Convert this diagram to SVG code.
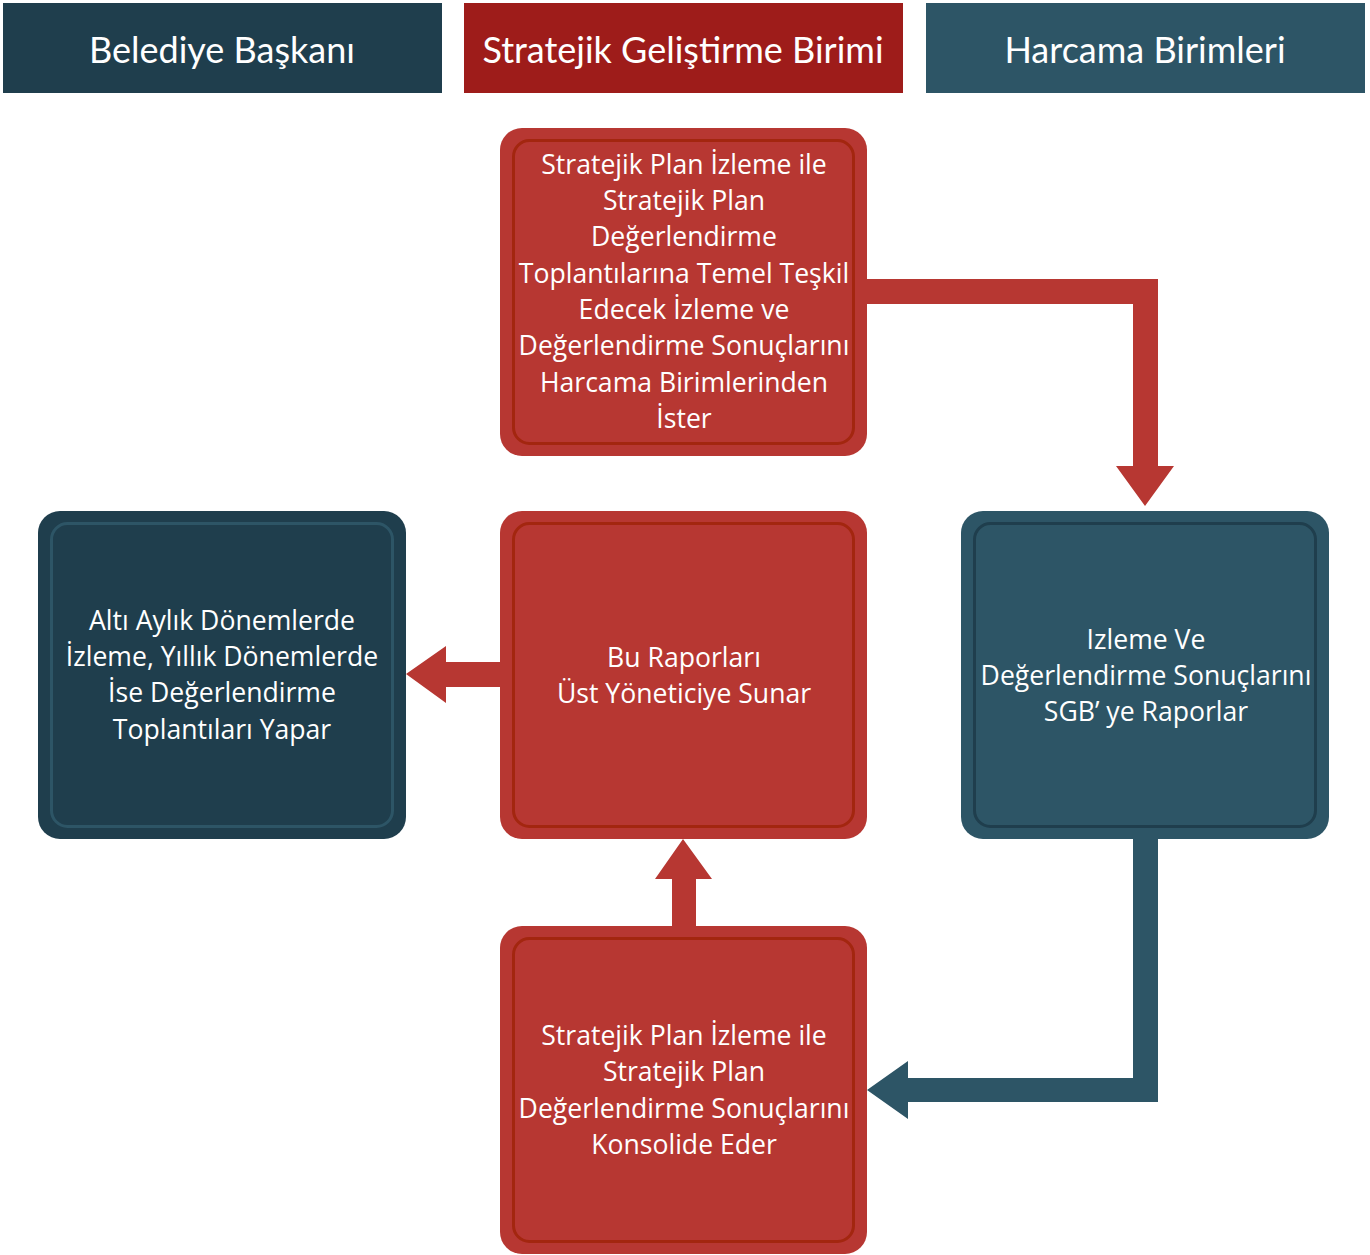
<svg xmlns="http://www.w3.org/2000/svg" width="1370" height="1255" viewBox="0 0 1370 1255">
<style>
.hdr{font-family:"Lato","Noto Sans",sans-serif;font-size:36px;fill:#ffffff;text-anchor:middle}
.txt{font-family:"Open Sans","Noto Sans",sans-serif;font-size:26.6px;fill:#ffffff;text-anchor:middle}
.red{fill:#b73732}
.redIn{fill:none;stroke:#a3260f;stroke-width:3}
.dark{fill:#1f3e4d}
.darkIn{fill:none;stroke:#2d5566;stroke-width:3}
.teal{fill:#2d5566}
.tealIn{fill:none;stroke:#1f3e4d;stroke-width:3}
</style>
<rect width="1370" height="1255" fill="#ffffff"/>
<g id="header-baskan"><rect x="3" y="3" width="439" height="90" fill="#1f3e4d"/><text class="hdr" x="222" y="63">Belediye Başkanı</text></g>
<g id="header-sgb"><rect x="464" y="3" width="439" height="90" fill="#9e1c1a"/><text class="hdr" x="683" y="63">Stratejik Geliştirme Birimi</text></g>
<g id="header-harcama"><rect x="926" y="3" width="439" height="90" fill="#2d5566"/><text class="hdr" x="1145" y="63">Harcama Birimleri</text></g>
<g id="connectors">
<path d="M867 279 H1158 V466 H1174 L1145 506 L1116 466 H1133 V304 H867 Z" fill="#b73732"/>
<path d="M500 662 H446 V646 L406 674 L446 703 V687 H500 Z" fill="#b73732"/>
<path d="M672 926 V879 H655 L683 839 L712 879 H696 V926 Z" fill="#b73732"/>
<path d="M1133 839 V1078 H908 V1061 L867 1090 L908 1119 V1102 H1158 V839 Z" fill="#2d5566"/>
</g>
<g id="node-ister"><rect class="red" x="500" y="128" width="367" height="328" rx="22"/><rect class="redIn" x="513.5" y="140.5" width="340" height="303" rx="16"/>
<text class="txt"><tspan x="684" y="174">Stratejik Plan İzleme ile</tspan><tspan x="684" y="210">Stratejik Plan</tspan><tspan x="684" y="246">Değerlendirme</tspan><tspan x="684" y="283">Toplantılarına Temel Teşkil</tspan><tspan x="684" y="319">Edecek İzleme ve</tspan><tspan x="684" y="355">Değerlendirme Sonuçlarını</tspan><tspan x="684" y="392">Harcama Birimlerinden</tspan><tspan x="684" y="428">İster</tspan></text></g>
<g id="node-toplanti"><rect class="dark" x="38" y="511" width="368" height="328" rx="22"/><rect class="darkIn" x="51.5" y="523.5" width="341" height="303" rx="16"/>
<text class="txt"><tspan x="222" y="630">Altı Aylık Dönemlerde</tspan><tspan x="222" y="666">İzleme, Yıllık Dönemlerde</tspan><tspan x="222" y="702">İse Değerlendirme</tspan><tspan x="222" y="739">Toplantıları Yapar</tspan></text></g>
<g id="node-sunar"><rect class="red" x="500" y="511" width="367" height="328" rx="22"/><rect class="redIn" x="513.5" y="523.5" width="340" height="303" rx="16"/>
<text class="txt"><tspan x="684" y="667">Bu Raporları</tspan><tspan x="684" y="703">Üst Yöneticiye Sunar</tspan></text></g>
<g id="node-raporlar"><rect class="teal" x="961" y="511" width="368" height="328" rx="22"/><rect class="tealIn" x="974.5" y="523.5" width="341" height="303" rx="16"/>
<text class="txt"><tspan x="1146" y="649">Izleme Ve</tspan><tspan x="1146" y="685">Değerlendirme Sonuçlarını</tspan><tspan x="1146" y="721">SGB’ ye Raporlar</tspan></text></g>
<g id="node-konsolide"><rect class="red" x="500" y="926" width="367" height="328" rx="22"/><rect class="redIn" x="513.5" y="938.5" width="340" height="303" rx="16"/>
<text class="txt"><tspan x="684" y="1045">Stratejik Plan İzleme ile</tspan><tspan x="684" y="1081">Stratejik Plan</tspan><tspan x="684" y="1118">Değerlendirme Sonuçlarını</tspan><tspan x="684" y="1154">Konsolide Eder</tspan></text></g>
</svg>
